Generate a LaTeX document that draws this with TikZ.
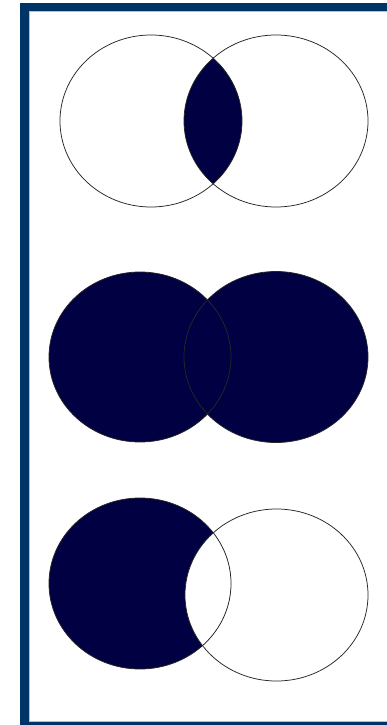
\documentclass[tikz,border=0pt]{standalone}
\definecolor{navyfill}{RGB}{0,0,66}
\definecolor{framec}{RGB}{0,51,102}
\definecolor{framelight}{RGB}{165,195,228}
\tikzset{
  outline/.style={draw=black!85, line width=0.75pt},
  setfill/.style={fill=navyfill}
}
\begin{document}
\begin{tikzpicture}[x=1pt,y=-1pt]
\useasboundingbox (0,0) rectangle (387,725);
\begin{scope}
  \clip (0,0) rectangle (387,725);
  \fill[white] (0,0) rectangle (387,725);
  \draw[framec, line width=8.5pt] (24.25,7.25) rectangle (400,726.25);
  \draw[framelight, line width=0.8pt] (28.9,11.9) rectangle (400,721.6);
\end{scope}
% top pair: intersection
\coordinate (tA) at (151,121);
\coordinate (tB) at (276,121);
\begin{scope}
  \clip (tA) ellipse [x radius=91pt, y radius=86pt];
  \fill[setfill] (tB) ellipse [x radius=92pt, y radius=86pt];
\end{scope}
\draw[outline] (tA) ellipse [x radius=91pt, y radius=86pt];
\draw[outline] (tB) ellipse [x radius=92pt, y radius=86pt];
% middle pair: union
\coordinate (mA) at (140,357);
\coordinate (mB) at (276,357);
\fill[setfill] (mA) ellipse [x radius=91pt, y radius=85pt];
\fill[setfill] (mB) ellipse [x radius=92pt, y radius=85.5pt];
\draw[outline] (mA) ellipse [x radius=91pt, y radius=85pt];
\draw[outline] (mB) ellipse [x radius=92pt, y radius=85.5pt];
% bottom pair: difference
\coordinate (bA) at (140,583.5);
\coordinate (bB) at (276.5,595);
\fill[setfill] (bA) ellipse [x radius=91pt, y radius=85.5pt];
\begin{scope}
  \clip (bA) ellipse [x radius=91pt, y radius=85.5pt];
  \fill[white] (bB) ellipse [x radius=91.5pt, y radius=86pt];
\end{scope}
\draw[outline] (bA) ellipse [x radius=91pt, y radius=85.5pt];
\draw[outline] (bB) ellipse [x radius=91.5pt, y radius=86pt];
\end{tikzpicture}
\end{document}
